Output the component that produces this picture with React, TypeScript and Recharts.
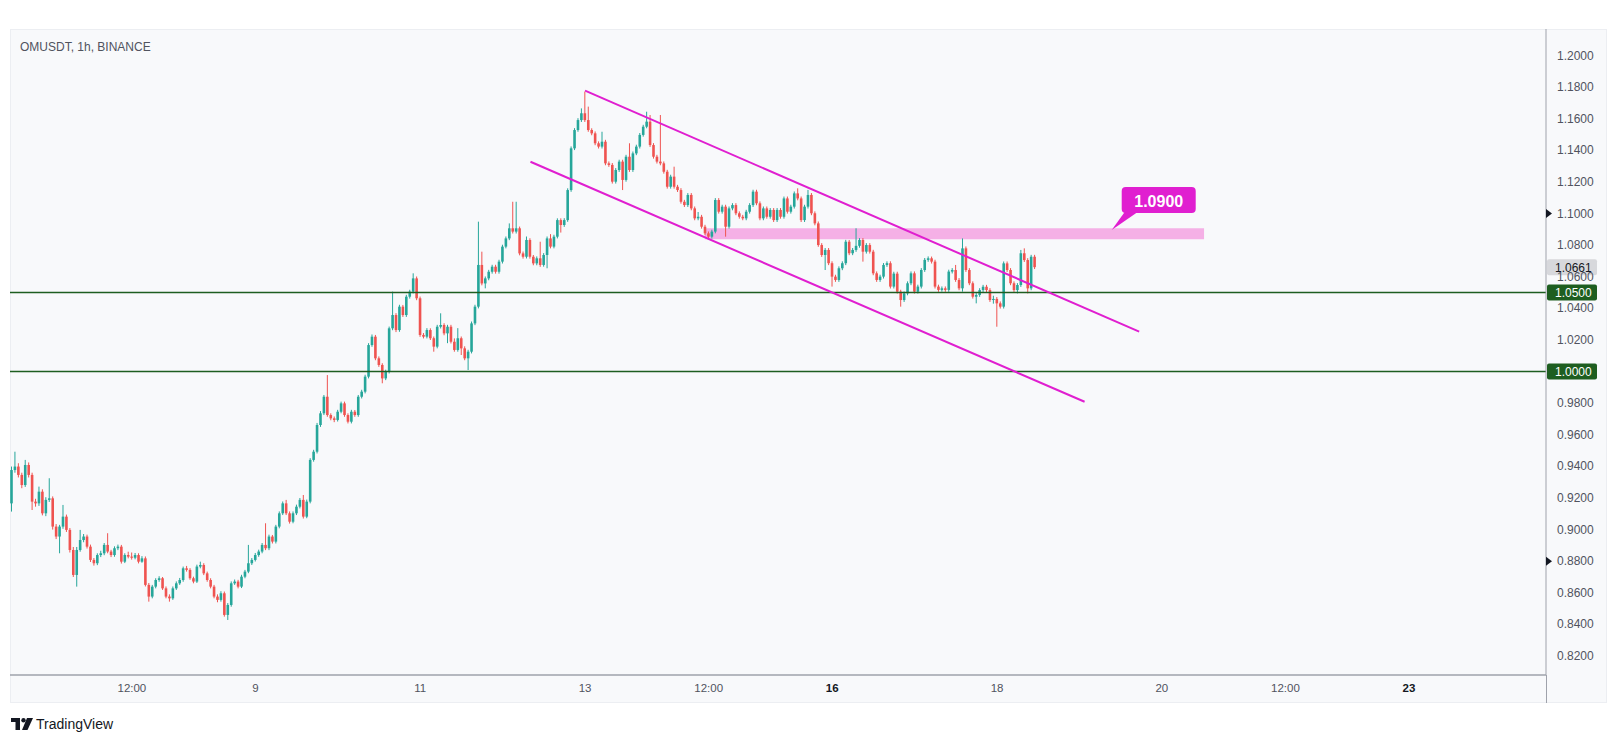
import React from "react";
import {
  ComposedChart,
  Bar,
  XAxis,
  YAxis,
  ReferenceLine,
  ReferenceArea,
  ReferenceDot,
} from "recharts";

// hourly candles, OMUSDT 1h (index 0 = 7th ~01:00)
const opens = [
  0.9166, 0.9377, 0.9399, 0.9346, 0.9282, 0.9409, 0.9346, 0.9177, 0.9166, 0.9240,
  0.9103, 0.9188, 0.9198, 0.9019, 0.8956, 0.9019, 0.9082, 0.8998, 0.8871, 0.8713,
  0.8871, 0.8934, 0.8956, 0.8892, 0.8808, 0.8787, 0.8839, 0.8850, 0.8903, 0.8861,
  0.8839, 0.8882, 0.8892, 0.8797, 0.8839, 0.8829, 0.8822, 0.8839, 0.8797, 0.8818,
  0.8650, 0.8576, 0.8639, 0.8681, 0.8692, 0.8628, 0.8576, 0.8565, 0.8628, 0.8660,
  0.8681, 0.8755, 0.8745, 0.8692, 0.8671, 0.8766, 0.8776, 0.8723, 0.8681, 0.8639,
  0.8576, 0.8555, 0.8597, 0.8460, 0.8523, 0.8660, 0.8671, 0.8639, 0.8702, 0.8734,
  0.8787, 0.8808, 0.8839, 0.8861, 0.8903, 0.8882, 0.8956, 0.8924, 0.9019, 0.9103,
  0.9166, 0.9103, 0.9050, 0.9103, 0.9145, 0.9188, 0.9082, 0.9177, 0.9441, 0.9493,
  0.9662, 0.9736, 0.9841, 0.9725, 0.9704, 0.9694, 0.9746, 0.9799, 0.9725, 0.9683,
  0.9746, 0.9725, 0.9841, 0.9873, 0.9968, 1.0168, 1.0221, 1.0084, 1.0042, 0.9957,
  0.9999, 1.0274, 1.0358, 1.0263, 1.0411, 1.0358, 1.0474, 1.0506, 1.0590, 1.0464,
  1.0232, 1.0221, 1.0263, 1.0211, 1.0158, 1.0284, 1.0295, 1.0242, 1.0284, 1.0189,
  1.0137, 1.0211, 1.0147, 1.0084, 1.0126, 1.0305, 1.0411, 1.0675, 1.0558, 1.0590,
  1.0632, 1.0664, 1.0632, 1.0696, 1.0791, 1.0843, 1.0907, 1.0886, 1.0907, 1.0748,
  1.0727, 1.0833, 1.0727, 1.0685, 1.0717, 1.0675, 1.0738, 1.0843, 1.0791, 1.0854,
  1.0959, 1.0928, 1.0959, 1.1149, 1.1413, 1.1529, 1.1592, 1.1635, 1.1592, 1.1529,
  1.1508, 1.1445, 1.1424, 1.1455, 1.1318, 1.1308, 1.1202, 1.1276, 1.1329, 1.1213,
  1.1360, 1.1276, 1.1381, 1.1424, 1.1498, 1.1550, 1.1582, 1.1434, 1.1360, 1.1329,
  1.1318, 1.1265, 1.1170, 1.1234, 1.1170, 1.1149, 1.1075, 1.1054, 1.1118, 1.1033,
  1.0970, 1.0980, 1.0917, 1.0875, 1.0854, 1.0886, 1.1086, 1.1012, 1.1044, 1.0917,
  1.1033, 1.1054, 1.1002, 1.0980, 1.0970, 1.1012, 1.1054, 1.1139, 1.1065, 1.0970,
  1.1033, 1.0980, 1.1023, 1.0959, 1.1023, 1.0980, 1.1096, 1.1012, 1.1044, 1.1128,
  1.1096, 1.0959, 1.1044, 1.1118, 1.1002, 1.0938, 1.0801, 1.0738, 1.0770, 1.0686,
  1.0601, 1.0580, 1.0654, 1.0686, 1.0822, 1.0749, 1.0770, 1.0796, 1.0833, 1.0759,
  1.0801, 1.0759, 1.0622, 1.0580, 1.0601, 1.0675, 1.0686, 1.0538, 1.0620, 1.0506,
  1.0453, 1.0495, 1.0559, 1.0622, 1.0506, 1.0538, 1.0643, 1.0707, 1.0717, 1.0696,
  1.0538, 1.0517, 1.0527, 1.0517, 1.0633, 1.0643, 1.0580, 1.0527, 1.0780, 1.0643,
  1.0559, 1.0474, 1.0485, 1.0516, 1.0537, 1.0516, 1.0453, 1.0460, 1.0432, 1.0411,
  1.0685, 1.0643, 1.0559, 1.0516, 1.0548, 1.0749, 1.0706, 1.0527, 1.0727,
];

const highs = [
  0.9399, 0.9493, 0.9420, 0.9360, 0.9441, 0.9425, 0.9360, 0.9195, 0.9272, 0.9255,
  0.9205, 0.9325, 0.9210, 0.9035, 0.9030, 0.9156, 0.9095, 0.9010, 0.8890, 0.8890,
  0.8998, 0.8972, 0.8968, 0.8905, 0.8820, 0.8850, 0.8866, 0.8915, 0.8977, 0.8872,
  0.8894, 0.8905, 0.8903, 0.8850, 0.8860, 0.8855, 0.8852, 0.8850, 0.8832, 0.8830,
  0.8662, 0.8650, 0.8692, 0.8705, 0.8700, 0.8640, 0.8590, 0.8640, 0.8672, 0.8694,
  0.8766, 0.8770, 0.8756, 0.8702, 0.8778, 0.8797, 0.8787, 0.8734, 0.8692, 0.8650,
  0.8590, 0.8610, 0.8608, 0.8535, 0.8672, 0.8684, 0.8682, 0.8714, 0.8745, 0.8903,
  0.8820, 0.8852, 0.8873, 0.8915, 0.9040, 0.8968, 0.8966, 0.9030, 0.9115, 0.9178,
  0.9188, 0.9115, 0.9115, 0.9158, 0.9200, 0.9219, 0.9190, 0.9452, 0.9505, 0.9675,
  0.9750, 0.9852, 0.9978, 0.9736, 0.9716, 0.9758, 0.9810, 0.9810, 0.9736, 0.9758,
  0.9757, 0.9852, 0.9885, 0.9980, 1.0180, 1.0235, 1.0232, 1.0096, 1.0053, 1.0012,
  1.0285, 1.0506, 1.0370, 1.0423, 1.0422, 1.0486, 1.0518, 1.0622, 1.0602, 1.0475,
  1.0244, 1.0275, 1.0274, 1.0222, 1.0296, 1.0369, 1.0306, 1.0296, 1.0296, 1.0210,
  1.0275, 1.0222, 1.0160, 1.0138, 1.0317, 1.0423, 1.0949, 1.0759, 1.0602, 1.0644,
  1.0676, 1.0676, 1.0708, 1.0803, 1.0855, 1.0938, 1.1075, 1.1075, 1.0918, 1.0760,
  1.0855, 1.0844, 1.0738, 1.0729, 1.0822, 1.0750, 1.0855, 1.0870, 1.0866, 1.0970,
  1.0970, 1.0971, 1.1160, 1.1425, 1.1541, 1.1604, 1.1666, 1.1772, 1.1677, 1.1540,
  1.1520, 1.1457, 1.1518, 1.1467, 1.1330, 1.1320, 1.1288, 1.1341, 1.1341, 1.1372,
  1.1445, 1.1393, 1.1436, 1.1510, 1.1562, 1.1645, 1.1624, 1.1446, 1.1372, 1.1624,
  1.1330, 1.1277, 1.1246, 1.1297, 1.1182, 1.1161, 1.1087, 1.1130, 1.1130, 1.1045,
  1.1010, 1.0992, 1.0929, 1.0887, 1.0898, 1.1098, 1.1098, 1.1056, 1.1056, 1.1045,
  1.1066, 1.1066, 1.1014, 1.0992, 1.1024, 1.1066, 1.1151, 1.1151, 1.1077, 1.1045,
  1.1045, 1.1035, 1.1035, 1.1035, 1.1035, 1.1108, 1.1108, 1.1056, 1.1140, 1.1160,
  1.1108, 1.1056, 1.1150, 1.1130, 1.1014, 1.0950, 1.0813, 1.0782, 1.0782, 1.0698,
  1.0613, 1.0666, 1.0698, 1.0834, 1.0833, 1.0782, 1.0907, 1.0845, 1.0845, 1.0813,
  1.0813, 1.0771, 1.0634, 1.0613, 1.0687, 1.0698, 1.0698, 1.0632, 1.0632, 1.0518,
  1.0507, 1.0571, 1.0634, 1.0634, 1.0550, 1.0655, 1.0719, 1.0729, 1.0728, 1.0708,
  1.0550, 1.0539, 1.0539, 1.0645, 1.0655, 1.0675, 1.0592, 1.0843, 1.0792, 1.0655,
  1.0571, 1.0497, 1.0528, 1.0549, 1.0549, 1.0528, 1.0480, 1.0472, 1.0444, 1.0697,
  1.0697, 1.0655, 1.0571, 1.0560, 1.0770, 1.0780, 1.0718, 1.0739, 1.0739,
];

const lows = [
  0.9114, 0.9360, 0.9330, 0.9262, 0.9270, 0.9330, 0.9124, 0.9145, 0.9150, 0.9090,
  0.9085, 0.9175, 0.9000, 0.8940, 0.8850, 0.9005, 0.8985, 0.8855, 0.8700, 0.8639,
  0.8860, 0.8920, 0.8880, 0.8795, 0.8772, 0.8775, 0.8826, 0.8838, 0.8850, 0.8826,
  0.8828, 0.8870, 0.8785, 0.8788, 0.8818, 0.8810, 0.8812, 0.8786, 0.8790, 0.8640,
  0.8544, 0.8565, 0.8628, 0.8670, 0.8618, 0.8565, 0.8544, 0.8555, 0.8618, 0.8650,
  0.8670, 0.8734, 0.8682, 0.8660, 0.8662, 0.8755, 0.8712, 0.8670, 0.8628, 0.8565,
  0.8540, 0.8544, 0.8449, 0.8428, 0.8512, 0.8650, 0.8628, 0.8630, 0.8692, 0.8724,
  0.8776, 0.8798, 0.8828, 0.8850, 0.8870, 0.8870, 0.8912, 0.8912, 0.9008, 0.9092,
  0.9092, 0.9038, 0.9040, 0.9092, 0.9134, 0.9070, 0.9072, 0.9166, 0.9430, 0.9482,
  0.9650, 0.9725, 0.9714, 0.9692, 0.9680, 0.9684, 0.9736, 0.9714, 0.9672, 0.9672,
  0.9714, 0.9714, 0.9830, 0.9862, 0.9957, 1.0157, 1.0072, 1.0030, 0.9926, 0.9946,
  0.9988, 1.0262, 1.0250, 1.0252, 1.0346, 1.0346, 1.0462, 1.0495, 1.0452, 1.0220,
  1.0210, 1.0210, 1.0200, 1.0126, 1.0147, 1.0273, 1.0230, 1.0180, 1.0178, 1.0126,
  1.0126, 1.0105, 1.0072, 1.0010, 1.0115, 1.0294, 1.0400, 1.0546, 1.0527, 1.0578,
  1.0620, 1.0620, 1.0620, 1.0684, 1.0780, 1.0832, 1.0874, 1.0874, 1.0736, 1.0715,
  1.0716, 1.0715, 1.0673, 1.0673, 1.0663, 1.0664, 1.0654, 1.0780, 1.0780, 1.0843,
  1.0880, 1.0916, 1.0948, 1.1138, 1.1402, 1.1518, 1.1580, 1.1580, 1.1518, 1.1496,
  1.1433, 1.1412, 1.1412, 1.1306, 1.1296, 1.1190, 1.1190, 1.1264, 1.1149, 1.1202,
  1.1264, 1.1264, 1.1370, 1.1412, 1.1487, 1.1540, 1.1422, 1.1348, 1.1317, 1.1306,
  1.1253, 1.1158, 1.1158, 1.1158, 1.1137, 1.1063, 1.1042, 1.1042, 1.1021, 1.0958,
  1.0958, 1.0905, 1.0863, 1.0842, 1.0842, 1.0875, 1.1000, 1.1000, 1.0854, 1.0905,
  1.1021, 1.0990, 1.0968, 1.0958, 1.0958, 1.1000, 1.1042, 1.1053, 1.0958, 1.0958,
  1.0968, 1.0968, 1.0947, 1.0947, 1.0968, 1.0968, 1.1000, 1.1000, 1.1032, 1.1084,
  1.0947, 1.0947, 1.1032, 1.0990, 1.0926, 1.0790, 1.0726, 1.0643, 1.0674, 1.0538,
  1.0568, 1.0568, 1.0642, 1.0674, 1.0737, 1.0737, 1.0758, 1.0784, 1.0696, 1.0747,
  1.0747, 1.0610, 1.0568, 1.0568, 1.0589, 1.0663, 1.0526, 1.0526, 1.0494, 1.0411,
  1.0441, 1.0483, 1.0547, 1.0494, 1.0494, 1.0526, 1.0631, 1.0695, 1.0684, 1.0526,
  1.0505, 1.0506, 1.0505, 1.0505, 1.0621, 1.0568, 1.0515, 1.0506, 1.0631, 1.0547,
  1.0462, 1.0432, 1.0473, 1.0504, 1.0504, 1.0441, 1.0430, 1.0284, 1.0399, 1.0399,
  1.0631, 1.0547, 1.0504, 1.0495, 1.0536, 1.0694, 1.0495, 1.0515, 1.0649,
];

const closes = [
  0.9377, 0.9399, 0.9346, 0.9282, 0.9409, 0.9346, 0.9177, 0.9166, 0.9240, 0.9103,
  0.9188, 0.9198, 0.9019, 0.8956, 0.9019, 0.9082, 0.8998, 0.8871, 0.8713, 0.8871,
  0.8934, 0.8956, 0.8892, 0.8808, 0.8787, 0.8839, 0.8850, 0.8903, 0.8861, 0.8839,
  0.8882, 0.8892, 0.8797, 0.8839, 0.8829, 0.8822, 0.8839, 0.8797, 0.8818, 0.8650,
  0.8576, 0.8639, 0.8681, 0.8692, 0.8628, 0.8576, 0.8565, 0.8628, 0.8660, 0.8681,
  0.8755, 0.8745, 0.8692, 0.8671, 0.8766, 0.8776, 0.8723, 0.8681, 0.8639, 0.8576,
  0.8555, 0.8597, 0.8460, 0.8523, 0.8660, 0.8671, 0.8639, 0.8702, 0.8734, 0.8787,
  0.8808, 0.8839, 0.8861, 0.8903, 0.8882, 0.8956, 0.8924, 0.9019, 0.9103, 0.9166,
  0.9103, 0.9050, 0.9103, 0.9145, 0.9188, 0.9082, 0.9177, 0.9441, 0.9493, 0.9662,
  0.9736, 0.9841, 0.9725, 0.9704, 0.9694, 0.9746, 0.9799, 0.9725, 0.9683, 0.9746,
  0.9725, 0.9841, 0.9873, 0.9968, 1.0168, 1.0221, 1.0084, 1.0042, 0.9957, 0.9999,
  1.0274, 1.0358, 1.0263, 1.0411, 1.0358, 1.0474, 1.0506, 1.0590, 1.0464, 1.0232,
  1.0221, 1.0263, 1.0211, 1.0158, 1.0284, 1.0295, 1.0242, 1.0284, 1.0189, 1.0137,
  1.0211, 1.0147, 1.0084, 1.0126, 1.0305, 1.0411, 1.0675, 1.0558, 1.0590, 1.0632,
  1.0664, 1.0632, 1.0696, 1.0791, 1.0843, 1.0907, 1.0886, 1.0907, 1.0748, 1.0727,
  1.0833, 1.0727, 1.0685, 1.0717, 1.0675, 1.0738, 1.0843, 1.0791, 1.0854, 1.0959,
  1.0928, 1.0959, 1.1149, 1.1413, 1.1529, 1.1592, 1.1635, 1.1592, 1.1529, 1.1508,
  1.1445, 1.1424, 1.1455, 1.1318, 1.1308, 1.1202, 1.1276, 1.1329, 1.1213, 1.1360,
  1.1276, 1.1381, 1.1424, 1.1498, 1.1550, 1.1582, 1.1434, 1.1360, 1.1329, 1.1318,
  1.1265, 1.1170, 1.1234, 1.1170, 1.1149, 1.1075, 1.1054, 1.1118, 1.1033, 1.0970,
  1.0980, 1.0917, 1.0875, 1.0854, 1.0886, 1.1086, 1.1012, 1.1044, 1.0917, 1.1033,
  1.1054, 1.1002, 1.0980, 1.0970, 1.1012, 1.1054, 1.1139, 1.1065, 1.0970, 1.1033,
  1.0980, 1.1023, 1.0959, 1.1023, 1.0980, 1.1096, 1.1012, 1.1044, 1.1128, 1.1096,
  1.0959, 1.1044, 1.1118, 1.1002, 1.0938, 1.0801, 1.0738, 1.0770, 1.0686, 1.0601,
  1.0580, 1.0654, 1.0686, 1.0822, 1.0749, 1.0770, 1.0796, 1.0833, 1.0759, 1.0801,
  1.0759, 1.0622, 1.0580, 1.0601, 1.0675, 1.0686, 1.0538, 1.0620, 1.0506, 1.0453,
  1.0495, 1.0559, 1.0622, 1.0506, 1.0538, 1.0643, 1.0707, 1.0717, 1.0696, 1.0538,
  1.0517, 1.0527, 1.0517, 1.0633, 1.0643, 1.0580, 1.0527, 1.0780, 1.0643, 1.0559,
  1.0474, 1.0485, 1.0516, 1.0537, 1.0516, 1.0453, 1.0460, 1.0432, 1.0411, 1.0685,
  1.0643, 1.0559, 1.0516, 1.0548, 1.0749, 1.0706, 1.0527, 1.0727, 1.0661,
];

// time axis (bar index of each label)
const timeTicks = [35, 71, 119, 167, 203, 239, 287, 335, 371, 407];
const timeLabels = ["12:00", "9", "11", "13", "12:00", "16", "18", "20", "12:00", "23"];
const weekStarts = ["16", "23"];

const priceTicks = [
  0.82, 0.84, 0.86, 0.88, 0.9, 0.92, 0.94, 0.96, 0.98, 1.0,
  1.02, 1.04, 1.06, 1.08, 1.1, 1.12, 1.14, 1.16, 1.18, 1.2,
];
const supports = [1.05, 1.0];
const lastPrice = 1.0661;
const alertPrices = [1.1, 0.88];

// drawings
const zoneLow = 1.0837;
const zoneHigh = 1.0907;
const zoneFrom = 201.9;
const zoneTo = 347.3;
const zoneLabel = "1.0900";
const calloutAt = { x: 320.4, y: 1.0896 };
const channelTop = [{ x: 167.0, y: 1.1778 }, { x: 328.4, y: 1.0253 }];
const channelBottom = [{ x: 151.1, y: 1.1328 }, { x: 312.5, y: 0.9809 }];

const UP = "#26a69a";
const DOWN = "#ef5350";
const LEVEL = "#1e5e20";
const MAGENTA = "#e01fd0";
const PINK = "#f5b0e6";
const FONT = "'Liberation Sans', Arial, sans-serif";

const candles = closes.map((c, i) => ({
  idx: i,
  open: opens[i],
  close: c,
  high: highs[i],
  low: lows[i],
  range: [lows[i], highs[i]],
}));

function Candle(props: any) {
  const { x, y, width, height, payload } = props;
  if (x == null || y == null) return null;
  const top = Math.min(y, y + height);
  const h = Math.abs(height);
  const { open, close, high, low } = payload;
  const color = close >= open ? UP : DOWN;
  const k = high - low > 0 ? h / (high - low) : 0;
  const yo = top + (high - open) * k;
  const yc = top + (high - close) * k;
  const cx = x + width / 2;
  return (
    <g>
      <line x1={cx} x2={cx} y1={top} y2={top + h} stroke={color} strokeWidth={1} />
      <rect
        x={cx - 1.3}
        y={Math.min(yo, yc)}
        width={2.6}
        height={Math.max(Math.abs(yo - yc), 1)}
        fill={color}
      />
    </g>
  );
}

function TimeTick(props: any) {
  const { x, y, payload } = props;
  const label = timeLabels[timeTicks.indexOf(payload.value)];
  const bold = weekStarts.includes(label);
  return (
    <text
      x={x}
      y={y + 13}
      textAnchor="middle"
      dominantBaseline="central"
      fontSize={11.5}
      fontFamily={FONT}
      fontWeight={bold ? 700 : 400}
      fill={bold ? "#131722" : "#50535e"}
    >
      {label}
    </text>
  );
}

function PriceTick(props: any) {
  const { x, y, payload } = props;
  const v = payload.value;
  const covered = supports.some((s) => Math.abs(s - v) < 1e-6);
  const alert = alertPrices.some((s) => Math.abs(s - v) < 1e-6);
  return (
    <g>
      {alert && (
        <polygon points={`${x},${y - 4.5} ${x + 6},${y} ${x},${y + 4.5}`} fill="#131722" />
      )}
      {!covered && (
        <text
          x={x + 11}
          y={y}
          dominantBaseline="central"
          fontSize={12}
          fontFamily={FONT}
          fill="#50535e"
        >
          {v.toFixed(4)}
        </text>
      )}
    </g>
  );
}

function PriceTag(props: any) {
  const { viewBox, text, bg, color } = props;
  if (!viewBox) return null;
  const x = viewBox.x + viewBox.width;
  const y = viewBox.y;
  return (
    <g>
      <rect x={x + 1} y={y - 8} width={50} height={16} rx={2} fill={bg} />
      <text
        x={x + 9}
        y={y + 0.5}
        dominantBaseline="central"
        fontSize={12}
        fontFamily={FONT}
        fill={color}
      >
        {text}
      </text>
    </g>
  );
}

function Callout(props: any) {
  const { cx, cy } = props;
  if (cx == null || cy == null) return null;
  const bx = cx + 10;
  const by = cy - 43;
  const w = 74;
  const h = 26;
  return (
    <g>
      <path d={`M${cx},${cy} L${bx + 3},${by + h - 1} L${bx + 16},${by + h - 1} Z`} fill={MAGENTA} />
      <rect x={bx} y={by} width={w} height={h} rx={4} fill={MAGENTA} />
      <text
        x={bx + w / 2}
        y={by + h / 2 + 1}
        textAnchor="middle"
        dominantBaseline="central"
        fontSize={16}
        fontWeight={700}
        fontFamily={FONT}
        fill="#ffffff"
      >
        {zoneLabel}
      </text>
    </g>
  );
}

function Logo() {
  return (
    <svg width={22} height={12} viewBox="0 0 22 12">
      <path d="M0 0 H9 V12 H4.5 V4 H0 Z" fill="#131722" />
      <circle cx={12.5} cy={2.2} r={2.2} fill="#131722" />
      <path d="M16 0 H22 L16.5 12 H11 Z" fill="#131722" />
    </svg>
  );
}

export default function App() {
  return (
    <div
      style={{
        position: "absolute",
        left: 0,
        top: 0,
        width: 1615,
        height: 744,
        background: "#ffffff",
        overflow: "hidden",
        fontFamily: FONT,
      }}
    >
      <div
        style={{
          position: "absolute",
          left: 10,
          top: 29,
          width: 1597,
          height: 674,
          background: "#f8f9fb",
          boxShadow: "inset 0 0 0 1px #eceef2",
        }}
      >
        <ComposedChart
          width={1597}
          height={674}
          data={candles}
          margin={{ top: 0, right: 0, bottom: 0, left: 0 }}
        >
          <XAxis
            dataKey="idx"
            type="number"
            domain={[-0.5, 446.9]}
            allowDataOverflow
            ticks={timeTicks}
            interval={0}
            height={28}
            tickSize={0}
            tickMargin={0}
            tickLine={false}
            axisLine={{ stroke: "#9fa2ab", strokeWidth: 1.5 }}
            tick={<TimeTick />}
          />
          <YAxis
            orientation="right"
            type="number"
            domain={[0.80797, 1.21684]}
            allowDataOverflow
            ticks={priceTicks}
            interval={0}
            width={61}
            tickSize={0}
            tickMargin={0}
            tickLine={false}
            axisLine={{ stroke: "#9fa2ab", strokeWidth: 1 }}
            tick={<PriceTick />}
          />
          <ReferenceArea
            x1={zoneFrom}
            x2={zoneTo}
            y1={zoneLow}
            y2={zoneHigh}
            fill={PINK}
            fillOpacity={1}
            stroke="none"
          />
          {supports.map((s) => (
            <ReferenceLine
              key={s}
              y={s}
              stroke={LEVEL}
              strokeWidth={1.5}
              label={<PriceTag text={s.toFixed(4)} bg={LEVEL} color="#ffffff" />}
            />
          ))}
          <Bar
            dataKey="range"
            barSize={3}
            isAnimationActive={false}
            shape={(p: any) => <Candle {...p} />}
          />
          <ReferenceLine segment={channelTop} stroke={MAGENTA} strokeWidth={2} />
          <ReferenceLine segment={channelBottom} stroke={MAGENTA} strokeWidth={2} />
          <ReferenceLine
            y={lastPrice}
            stroke="none"
            strokeOpacity={0}
            label={<PriceTag text={lastPrice.toFixed(4)} bg="#d7d8dc" color="#131722" />}
          />
          <ReferenceDot
            x={calloutAt.x}
            y={calloutAt.y}
            r={0}
            shape={(p: any) => <Callout {...p} />}
          />
        </ComposedChart>
        <div
          style={{
            position: "absolute",
            left: 1536,
            top: 646,
            width: 1,
            height: 28,
            background: "#9fa2ab",
          }}
        />
        <div
          style={{
            position: "absolute",
            left: 10,
            top: 11,
            fontSize: 12,
            color: "#50535e",
            whiteSpace: "nowrap",
          }}
        >
          OMUSDT, 1h, BINANCE
        </div>
      </div>
      <div
        style={{
          position: "absolute",
          left: 11,
          top: 716,
          display: "flex",
          alignItems: "center",
          gap: 3,
          color: "#131722",
          fontSize: 14,
        }}
      >
        <Logo />
        <span>TradingView</span>
      </div>
    </div>
  );
}
